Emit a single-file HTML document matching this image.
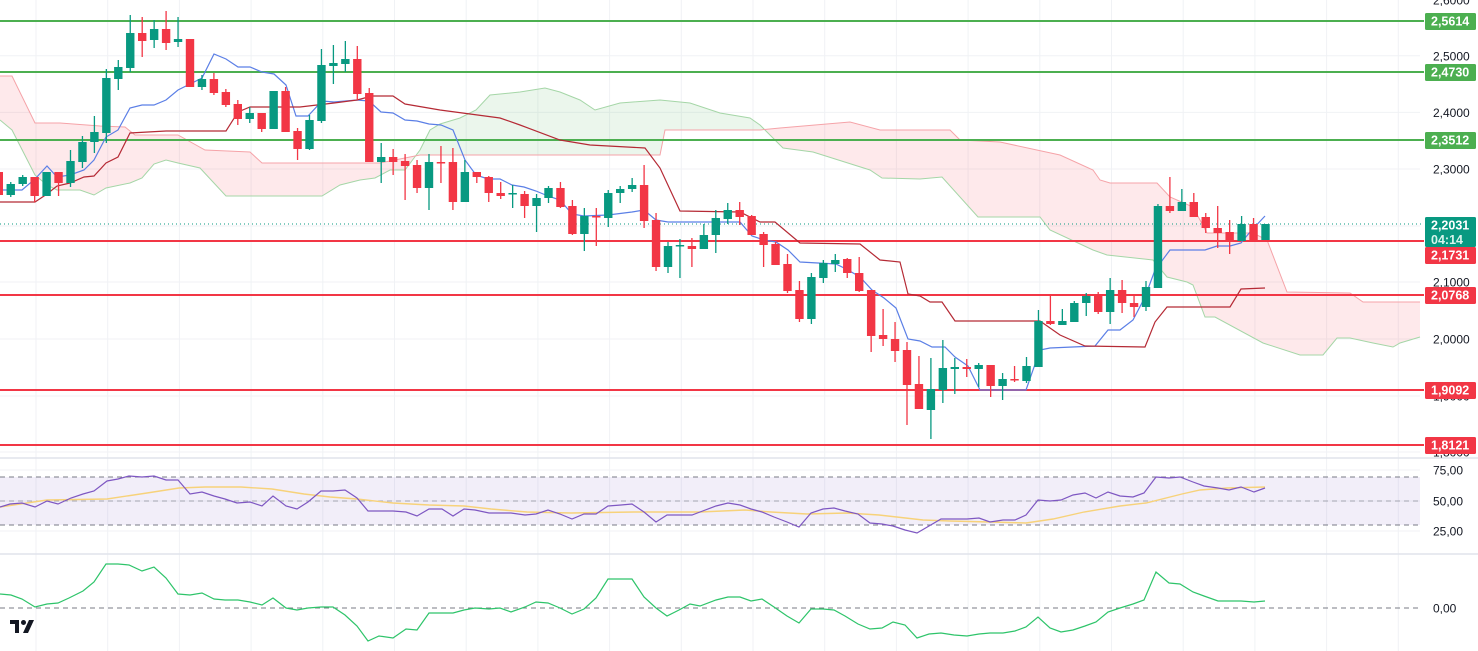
<!DOCTYPE html>
<html><head><meta charset="utf-8"><style>
html,body{margin:0;padding:0;background:#fff;}
svg{display:block;font-family:"Liberation Sans",sans-serif;}
</style></head><body>
<svg id="c" width="1478" height="651" viewBox="0 0 1478 651" xmlns="http://www.w3.org/2000/svg">
<defs>
<clipPath id="aboveA"><polygon id="pA" points=""/></clipPath>
<clipPath id="aboveB"><polygon id="pB" points=""/></clipPath>
</defs>
<g id="grid" stroke="#f0f2f5" stroke-width="1"></g>
<g id="cloud"></g>
<g id="hl"></g>
<g id="lines" fill="none"></g>
<g id="candles"></g>
<g id="lower"></g>
<g id="axis" font-size="12" fill="#131722"></g>
<g id="labels" font-size="12.5" fill="#fff"></g>
<g transform="translate(10,620)" fill="#131722">
<rect x="0" y="0" width="9" height="4"/><rect x="5" y="0" width="4" height="13"/>
<circle cx="13.5" cy="2.5" r="2.5"/><polygon points="19,0 24,0 18,13 13,13"/>
</g>
</svg>
<script>
const NS="http://www.w3.org/2000/svg";
function el(p,t,a,txt){const e=document.createElementNS(NS,t);for(const k in a)e.setAttribute(k,a[k]);if(txt!=null)e.textContent=txt;document.getElementById(p).appendChild(e);return e;}
const W=1420;
// grid
for(let i=0;i<20;i++){const x=36+71.7*i;if(x<W)el('grid','line',{x1:x,y1:0,x2:x,y2:651});}
[55.8,112.4,169,226,282,339,396,452].forEach(y=>el('grid','line',{x1:0,y1:y,x2:W,y2:y}));
[470,501,531].forEach(y=>el('grid','line',{x1:0,y1:y,x2:W,y2:y}));
// cloud
const A=[[0,120],[12,130],[35,175],[47,185],[57,190],[80,190],[94,195],[106,188],[130,183],[142,178],[154,164],[166,160],[178,163],[200,168],[226,196],[322,196],[340,185],[360,180],[375,178],[390,170],[405,170],[420,150],[430,130],[440,124],[460,118],[476,110],[490,95],[520,92],[545,88],[560,92],[580,100],[595,110],[620,103],[660,100],[690,103],[720,113],[750,118],[760,125],[783,148],[813,152],[870,170],[882,178],[920,179],[942,177],[978,217],[1040,217],[1050,230],[1093,250],[1107,255],[1153,260],[1167,277],[1187,282],[1193,285],[1205,317],[1215,317],[1263,343],[1300,355],[1323,355],[1337,338],[1350,338],[1373,343],[1393,347],[1400,343],[1420,337]];
const B=[[0,76],[12,76],[35,123],[60,123],[100,126],[125,127],[135,135],[178,135],[205,150],[250,152],[262,163],[380,163],[420,155],[660,155],[665,130],[760,130],[780,128],[850,122],[880,130],[950,130],[960,140],[1000,142],[1060,155],[1093,170],[1100,180],[1110,183],[1157,183],[1170,197],[1193,207],[1207,233],[1253,233],[1267,240],[1287,292],[1350,293],[1363,302],[1420,302]];
const ps=a=>a.map(p=>p.join(',')).join(' ');
document.getElementById('pA').setAttribute('points',ps(A)+` ${W},0 0,0`);
document.getElementById('pB').setAttribute('points',ps(B)+` ${W},0 0,0`);
el('cloud','polygon',{points:ps(B)+` ${W},460 0,460`,fill:'rgba(242,54,69,0.11)','clip-path':'url(#aboveA)'});
el('cloud','polygon',{points:ps(A)+` ${W},460 0,460`,fill:'rgba(76,175,80,0.11)','clip-path':'url(#aboveB)'});
el('cloud','polyline',{points:ps(A),fill:'none',stroke:'#a5d6a7','stroke-width':1});
el('cloud','polyline',{points:ps(B),fill:'none',stroke:'#f5a3a8','stroke-width':1});
// horizontal levels
[21,72,140].forEach(y=>el('hl','line',{x1:0,y1:y,x2:1424,y2:y,stroke:'#4caf50','stroke-width':2}));
[241,295,390,445].forEach(y=>el('hl','line',{x1:0,y1:y,x2:1424,y2:y,stroke:'#f23645','stroke-width':2}));
el('hl','line',{x1:0,y1:224,x2:1424,y2:224,stroke:'#089981','stroke-width':1,'stroke-dasharray':'1 3'});
// tenkan & kijun
const T=[[0,190],[22,190],[35,179],[47,166],[57,177],[70,175],[84,170],[94,160],[106,137],[118,130],[130,108],[142,105],[154,105],[166,100],[178,90],[190,84],[202,78],[214,54],[226,59],[238,67],[250,67],[262,72],[274,74],[286,85],[296,116],[308,116],[322,101],[334,102],[357,100],[369,101],[381,112],[393,113],[405,120],[417,121],[429,124],[441,125],[453,130],[465,160],[476,175],[488,179],[500,179],[512,185],[524,187],[536,191],[548,196],[560,200],[572,214],[584,216],[608,215],[632,212],[644,210],[656,220],[668,222],[740,222],[752,236],[764,240],[776,242],[788,250],[800,262],[836,264],[848,270],[860,277],[872,290],[884,298],[896,308],[908,339],[920,341],[932,347],[945,347],[955,357],[968,366],[980,390],[1026,390],[1040,350],[1050,348],[1095,346],[1108,330],[1120,330],[1133,320],[1145,297],[1155,270],[1170,250],[1205,250],[1217,246],[1230,246],[1241,243],[1250,232],[1265,216]];
const K=[[0,202],[35,202],[47,194],[57,186],[70,183],[84,177],[94,176],[106,163],[118,157],[130,133],[166,131],[226,131],[238,112],[250,107],[300,107],[334,103],[357,100],[372,96],[393,96],[405,104],[440,110],[500,118],[520,125],[560,140],[590,145],[645,148],[660,168],[680,211],[740,212],[760,222],[775,222],[800,243],[860,244],[880,260],[900,262],[908,294],[920,296],[930,302],[942,302],[955,321],[1040,321],[1060,335],[1085,346],[1145,347],[1155,322],[1167,307],[1230,307],[1241,289],[1265,288]];
el('lines','polyline',{points:ps(T),stroke:'#5b7fe6','stroke-width':1.2});
el('lines','polyline',{points:ps(K),stroke:'#b52a35','stroke-width':1.2});
// candles [O,C,H,L]
const D=[[172,195,170,197],[195,184,182,197],[184,177,175,186],[177,196,177,202],[196,172,172,196],[172,183,172,196],[183,161,150,187],[162,142,136,168],[142,132,116,153],[133,78,69,143],[79,67,60,90],[68,33,15,72],[33,41,17,57],[40,29,20,48],[29,43,11,50],[42,39,17,47],[39,87,39,87],[87,79,75,90],[79,93,73,95],[92,105,89,107],[104,119,100,125],[119,113,107,123],[113,129,113,132],[129,91,91,129],[91,132,87,132],[131,149,128,160],[149,120,115,150],[121,65,49,123],[66,63,45,84],[64,59,41,72],[59,94,46,100],[93,162,88,162],[162,157,143,183],[157,162,149,175],[161,166,154,200],[165,188,160,193],[188,162,154,210],[162,163,146,183],[162,202,148,210],[202,172,160,202],[172,177,172,183],[177,193,176,202],[193,196,182,199],[194,193,185,208],[194,206,191,218],[206,198,194,232],[198,188,186,203],[188,207,182,208],[206,234,200,235],[234,216,208,251],[216,217,208,246],[218,193,190,227],[193,189,186,203],[189,185,178,192],[185,221,165,228],[220,267,213,271],[267,246,242,273],[246,245,239,278],[246,249,238,267],[249,235,224,249],[235,218,210,253],[219,210,203,224],[210,217,202,225],[216,235,215,235],[234,245,232,267],[244,265,242,265],[264,291,254,293],[290,319,281,322],[319,277,273,324],[278,263,260,283],[264,260,254,272],[259,273,258,278],[273,291,257,292],[290,336,290,352],[335,339,309,346],[339,351,322,362],[350,385,342,425],[384,409,356,409],[410,389,358,439],[390,368,340,403],[369,367,358,394],[367,369,359,377],[369,365,363,387],[365,386,365,397],[386,379,373,400],[379,380,366,382],[381,366,357,383],[367,321,310,367],[321,324,295,325],[325,321,309,325],[322,303,301,322],[303,296,293,316],[294,312,292,314],[312,290,278,324],[290,303,280,313],[303,307,295,317],[307,287,281,311],[288,206,204,288],[206,211,177,213],[211,202,189,211],[202,217,193,217],[217,228,213,233],[228,233,206,248],[232,241,220,254],[241,224,216,241],[224,240,218,241],[240,224,224,240]];
D.forEach((d,i)=>{const x=-1.2+11.95*i;const[o,c,h,l]=d;const g=c<o||(c===o-1);const col=c<o?'#089981':'#f23645';
el('candles','line',{x1:x,y1:h,x2:x,y2:l,stroke:col,'stroke-width':1.3});
const t=Math.min(o,c),b=Math.max(o,c);el('candles','rect',{x:x-4.2,y:t,width:8.4,height:Math.max(b-t,1.5),fill:col});});
// lower panes
el('lower','line',{x1:0,y1:458,x2:1478,y2:458,stroke:'#e0e3eb','stroke-width':1.5});
el('lower','line',{x1:0,y1:554,x2:1478,y2:554,stroke:'#e0e3eb','stroke-width':1.5});
el('lower','rect',{x:0,y:477,width:W,height:48,fill:'rgba(126,87,194,0.1)'});
[477,501,525].forEach(y=>el('lower','line',{x1:0,y1:y,x2:W,y2:y,stroke:'#787b86','stroke-width':1,'stroke-dasharray':'5 4',opacity:y==501?0.6:1}));
el('lower','line',{x1:0,y1:608,x2:W,y2:608,stroke:'#787b86','stroke-width':1,'stroke-dasharray':'5 4'});
const Y=[[0,507],[47,500],[107,499],[147,493],[179,488],[205,487],[241,487],[272,489],[304,494],[330,497],[357,499],[393,503],[429,505],[464,506],[491,509],[527,512],[571,513],[634,512],[700,512],[745,510],[771,512],[807,514],[847,513],[879,515],[923,520],[950,521],[990,522],[1026,523],[1053,519],[1084,512],[1120,506],[1146,503],[1182,494],[1200,490],[1227,488],[1265,487]];
el('lower','polyline',{points:ps(Y),fill:'none',stroke:'#f7d27a','stroke-width':1.4});
const R=[[0,507],[10,504],[22,503],[35,507],[47,501],[58,504],[71,498],[83,494],[94,491],[107,481],[118,479],[129,476],[142,477],[154,476],[166,480],[178,480],[190,494],[202,492],[214,496],[225,499],[237,503],[250,502],[262,506],[273,496],[286,506],[297,509],[308,502],[321,491],[333,491],[345,490],[357,498],[368,511],[379,511],[393,511],[406,512],[417,516],[429,509],[442,509],[453,516],[464,509],[475,510],[489,513],[511,513],[525,515],[536,514],[548,510],[560,514],[572,519],[584,514],[596,514],[608,506],[621,505],[632,504],[644,512],[656,522],[667,515],[692,515],[700,512],[716,506],[728,503],[740,505],[751,509],[762,512],[774,517],[787,522],[799,527],[811,513],[823,509],[834,508],[845,511],[858,514],[870,523],[882,524],[893,526],[905,530],[917,533],[929,526],[941,519],[967,519],[979,518],[990,522],[1003,520],[1015,520],[1026,515],[1038,500],[1050,501],[1061,500],[1073,495],[1085,493],[1096,498],[1108,492],[1120,496],[1133,497],[1144,493],[1156,477],[1169,478],[1180,477],[1193,482],[1204,486],[1218,488],[1229,490],[1241,487],[1254,492],[1265,488]];
el('lower','polyline',{points:ps(R),fill:'none',stroke:'#7e57c2','stroke-width':1.2});
const G=[[0,594],[11,595],[22,599],[35,607],[47,604],[58,603],[69,598],[83,591],[94,582],[106,564],[118,564],[129,565],[142,571],[154,567],[166,578],[178,594],[190,595],[202,593],[214,599],[225,600],[238,600],[250,602],[262,605],[273,598],[286,608],[297,610],[308,608],[321,607],[333,607],[345,615],[357,626],[368,641],[379,636],[393,638],[406,629],[417,630],[429,613],[453,613],[464,610],[475,608],[489,609],[500,608],[511,612],[525,607],[536,602],[548,603],[560,608],[572,614],[584,609],[596,598],[608,579],[632,579],[644,597],[656,608],[667,616],[679,610],[690,604],[700,606],[716,600],[728,597],[740,597],[751,601],[762,599],[774,607],[787,616],[799,623],[811,609],[823,609],[834,610],[845,616],[858,624],[870,629],[882,628],[893,622],[905,625],[917,638],[929,634],[941,633],[954,635],[967,636],[979,634],[990,633],[1003,633],[1015,631],[1026,627],[1038,617],[1050,628],[1061,632],[1073,630],[1085,626],[1096,622],[1108,612],[1120,608],[1133,604],[1144,600],[1156,572],[1169,583],[1180,584],[1193,592],[1204,596],[1218,601],[1241,601],[1254,602],[1265,601]];
el('lower','polyline',{points:ps(G),fill:'none',stroke:'#2ec46a','stroke-width':1.2});
// axis labels
[['2,6000',0],['2,5000',55.8],['2,4000',112.4],['2,3000',169],['2,1000',282],['2,0000',339],['1,9000',396],['1,8000',452],['75,00',470],['50,00',501],['25,00',531],['0,00',608]].forEach(a=>el('axis','text',{x:1433,y:a[1]+4.5},a[0]));
// price labels
function lab(y,h,col,t,t2){el('labels','rect',{x:1425,y:y,width:51,height:h,fill:col,rx:1.5});el('labels','text',{x:1431,y:y+12.5,'font-weight':'bold'},t);if(t2)el('labels','text',{x:1431,y:y+27,'font-weight':'bold',fill:'#d8f3ec'},t2);}
lab(13,17,'#4caf50','2,5614');lab(64,17,'#4caf50','2,4730');lab(132,17,'#4caf50','2,3512');
lab(217,30,'#089981','2,2031','04:14');lab(247,17,'#f23645','2,1731');lab(287,17,'#f23645','2,0768');
lab(382,17,'#f23645','1,9092');lab(437,17,'#f23645','1,8121');
</script>
</body></html>
